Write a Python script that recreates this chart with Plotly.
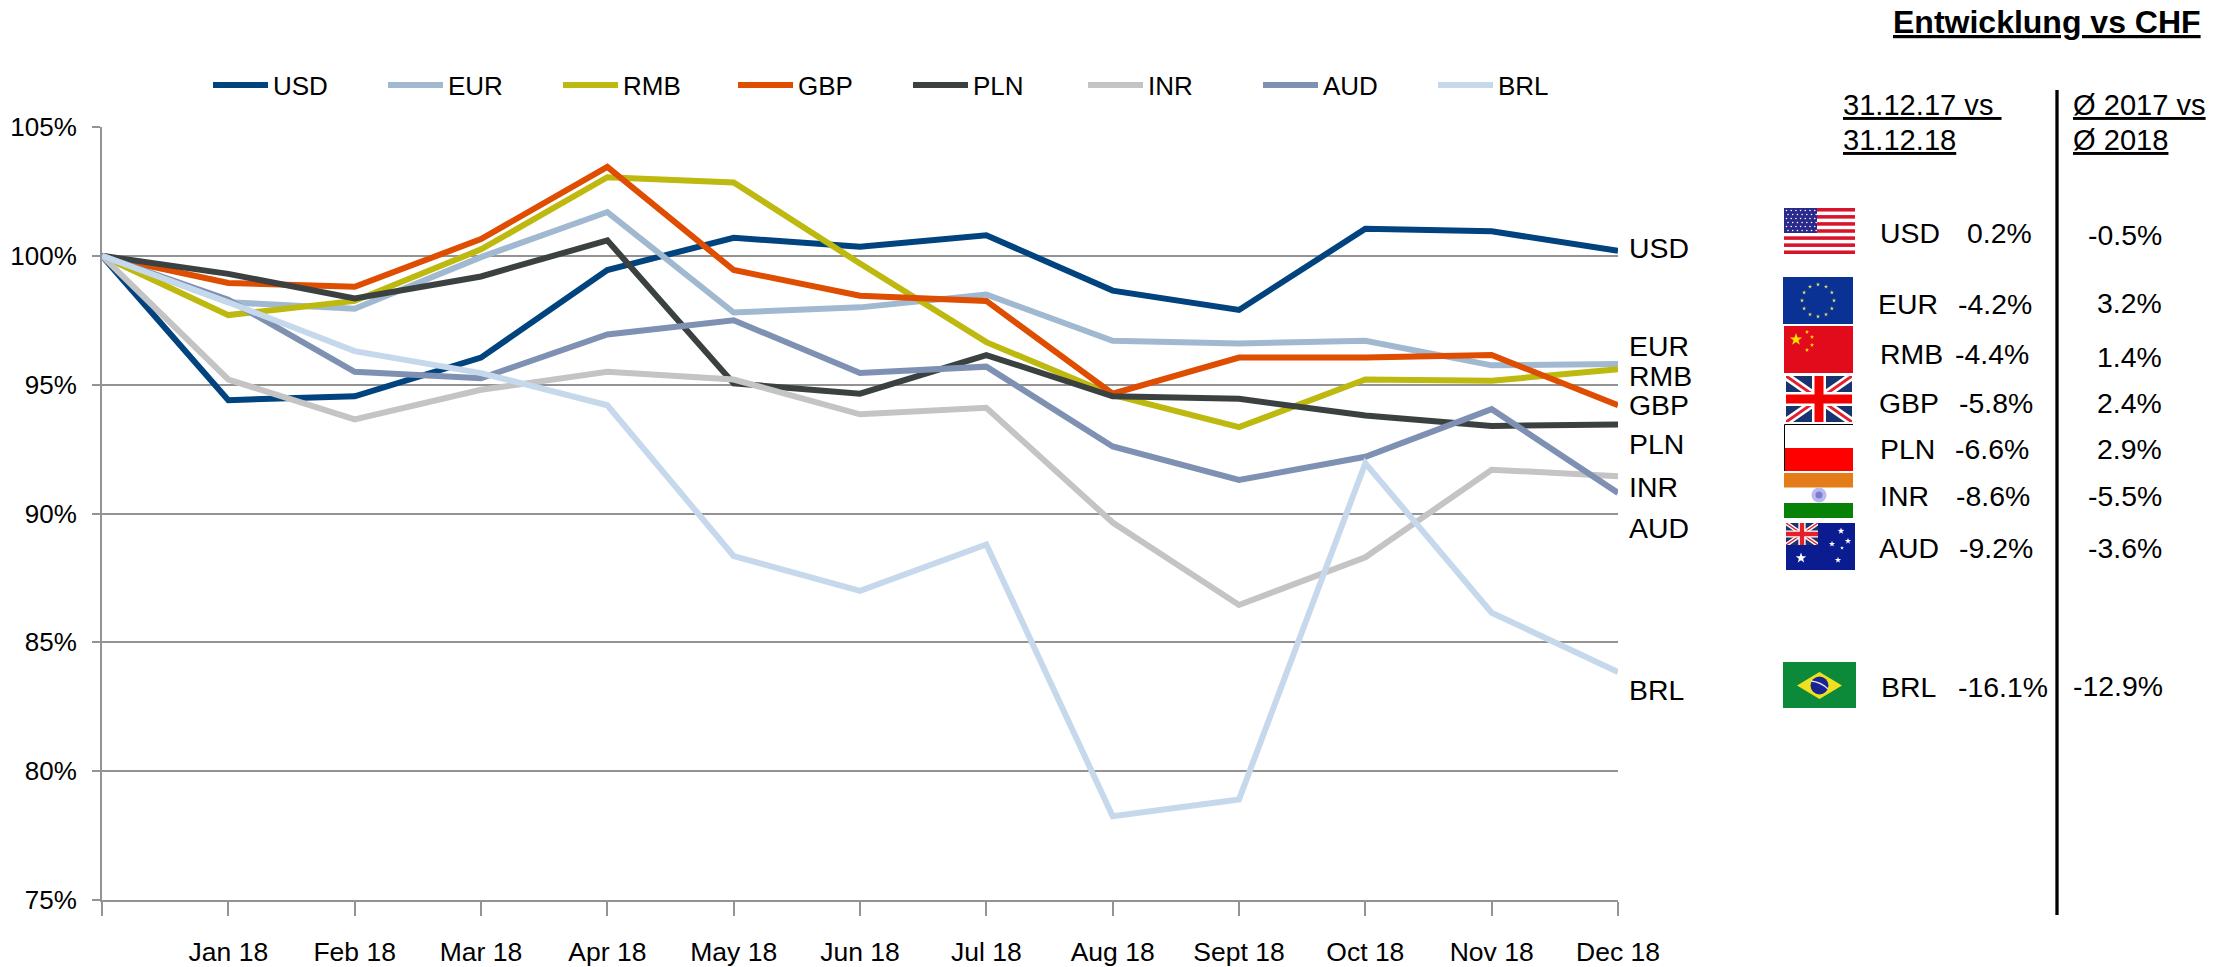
import math
import urllib.parse
import plotly.graph_objects as go

# ---------- data ----------
month_labels = ["", "Jan 18", "Feb 18", "Mar 18", "Apr 18", "May 18", "Jun 18", "Jul 18",
                "Aug 18", "Sept 18", "Oct 18", "Nov 18", "Dec 18"]
month_index = list(range(13))

usd = [100, 94.4, 94.55, 96.05, 99.45, 100.7, 100.35, 100.8, 98.65, 97.9, 101.05, 100.95, 100.2]
eur = [100, 98.2, 97.95, 99.95, 101.7, 97.8, 98.0, 98.5, 96.7, 96.6, 96.7, 95.75, 95.8]
rmb = [100, 97.7, 98.25, 100.25, 103.05, 102.85, 99.7, 96.65, 94.6, 93.35, 95.2, 95.15, 95.6]
gbp = [100, 98.95, 98.8, 100.65, 103.45, 99.45, 98.45, 98.25, 94.65, 96.05, 96.05, 96.15, 94.2]
pln = [100, 99.3, 98.35, 99.2, 100.6, 95.05, 94.65, 96.15, 94.55, 94.45, 93.8, 93.4, 93.45]
inr = [100, 95.2, 93.65, 94.8, 95.5, 95.2, 93.85, 94.1, 89.65, 86.45, 88.3, 91.7, 91.45]
aud = [100, 98.3, 95.5, 95.25, 96.95, 97.5, 95.45, 95.7, 92.6, 91.3, 92.2, 94.05, 90.8]
brl = [100, 98.2, 96.3, 95.45, 94.2, 88.35, 87.0, 88.8, 78.25, 78.9, 91.95, 86.15, 83.85]

currencies = ["USD", "EUR", "RMB", "GBP", "PLN", "INR", "AUD", "BRL"]
series = [usd, eur, rmb, gbp, pln, inr, aud, brl]
change_year_end = ["0.2%", "-4.2%", "-4.4%", "-5.8%", "-6.6%", "-8.6%", "-9.2%", "-16.1%"]
change_average = ["-0.5%", "3.2%", "1.4%", "2.4%", "2.9%", "-5.5%", "-3.6%", "-12.9%"]

y_ticks = [75, 80, 85, 90, 95, 100, 105]
y_tick_labels = ["75%", "80%", "85%", "90%", "95%", "100%", "105%"]

# ---------- styles / layout ----------
colors = ["#00437F", "#A0B9D1", "#BDB90F", "#DE4D00", "#3B4141", "#C4C4C4", "#7F91B3", "#C6D9EC"]
FONT = "Liberation Sans, Arial, sans-serif"
L, R, T, B = 102, 1618, 127, 900
W, H = 2231, 967
AXIS = "#939393"


def px(x):
    return (x - L) / (R - L)


def py(y):
    return (B - y) / (B - T)


def star(cx, cy, r, fill):
    pts = []
    for i in range(10):
        a = -math.pi / 2 + i * math.pi / 5
        rr = r if i % 2 == 0 else r * 0.4
        pts.append(f"{cx + rr * math.cos(a):.2f},{cy + rr * math.sin(a):.2f}")
    return f'<polygon points="{" ".join(pts)}" fill="{fill}"/>'


def svg(w, h, body):
    s = (f'<svg xmlns="http://www.w3.org/2000/svg" width="{w * 4}" height="{h * 4}" '
         f'viewBox="0 0 {w} {h}" preserveAspectRatio="none">{body}</svg>')
    return "data:image/svg+xml," + urllib.parse.quote(s)


def flag_usa():
    b = '<rect width="71" height="46" fill="#fff"/>'
    for i in range(7):
        b += f'<rect y="{i * 46 / 6.5:.2f}" width="71" height="{46 / 13:.2f}" fill="#D8132C"/>'
    b += '<rect width="33" height="25" fill="#2A2A8C"/>'
    for r in range(6):
        for c in range(7):
            b += f'<circle cx="{2.5 + c * 4.7 + (r % 2) * 1.5:.1f}" cy="{2.5 + r * 4:.1f}" r="0.8" fill="#fff"/>'
    return svg(71, 46, b)


def flag_eu():
    b = '<rect width="70" height="47" fill="#0A3294"/>'
    for i in range(12):
        a = i * math.pi / 6
        b += star(35 + 16 * math.cos(a), 23.5 + 16 * math.sin(a), 2.2, "#D8D86A")
    return svg(70, 47, b)


def flag_china():
    b = '<rect width="69" height="47" fill="#E20B1B"/>'
    b += star(12, 13.5, 6.5, "#FFDE00")
    for cx, cy in [(23, 6), (28, 11), (28, 19), (23, 24)]:
        b += star(cx, cy, 2.2, "#FFDE00")
    return svg(69, 47, b)


def flag_uk():
    b = '<rect width="66" height="46" fill="#17346E"/>'
    b += '<path d="M0,0L66,46M66,0L0,46" stroke="#fff" stroke-width="8"/>'
    b += '<path d="M0,0L66,46M66,0L0,46" stroke="#E3202C" stroke-width="3"/>'
    b += '<path d="M33,0V46M0,23H66" stroke="#fff" stroke-width="14"/>'
    b += '<path d="M33,0V46M0,23H66" stroke="#F30000" stroke-width="9"/>'
    return svg(66, 46, b)


def flag_poland():
    b = '<rect width="69" height="47" fill="#fff"/>'
    b += '<rect y="24" width="69" height="23" fill="#FE0000"/>'
    b += '<path d="M0.5,47V0.5H69" fill="none" stroke="#000" stroke-width="1"/>'
    return svg(69, 47, b)


def flag_india():
    b = '<rect width="69" height="45" fill="#fff"/>'
    b += '<rect width="69" height="14.5" fill="#E57C1A"/>'
    b += '<rect y="30" width="69" height="15" fill="#078207"/>'
    b += '<circle cx="35" cy="22" r="7.5" fill="#B9B9EE"/><circle cx="35" cy="22" r="3.5" fill="#7C7CD0"/>'
    return svg(69, 45, b)


def flag_australia():
    b = '<rect width="69" height="47" fill="#0B1C90"/>'
    b += '<svg x="0" y="0" width="32" height="22" viewBox="0 0 66 46" preserveAspectRatio="none">'
    b += '<rect width="66" height="46" fill="#17346E"/>'
    b += '<path d="M0,0L66,46M66,0L0,46" stroke="#fff" stroke-width="9"/>'
    b += '<path d="M0,0L66,46M66,0L0,46" stroke="#E3202C" stroke-width="3"/>'
    b += '<path d="M33,0V46M0,23H66" stroke="#fff" stroke-width="15"/>'
    b += '<path d="M33,0V46M0,23H66" stroke="#E3202C" stroke-width="9"/></svg>'
    b += star(15, 35, 5.5, "#fff")
    for cx, cy, r in [(55, 8, 3.5), (46, 21, 3.2), (62, 18, 3.3), (56, 25, 2), (52, 37, 3.3)]:
        b += star(cx, cy, r, "#fff")
    return svg(69, 47, b)


def flag_brazil():
    b = '<rect width="73" height="46" fill="#0C8A3A"/>'
    b += '<polygon points="36.5,10 59,23.5 36.5,37 14,23.5" fill="#EFE020"/>'
    b += '<circle cx="36.5" cy="23.5" r="9" fill="#1A2490"/>'
    b += '<path d="M28,19 Q38,20 45,27" fill="none" stroke="#DDE" stroke-width="1.4"/>'
    return svg(73, 46, b)


flags = [flag_usa(), flag_eu(), flag_china(), flag_uk(), flag_poland(), flag_india(), flag_australia(), flag_brazil()]
flag_boxes = [(1784, 208, 1855, 254), (1783, 277, 1853, 324), (1784, 326, 1853, 373), (1786, 376, 1852, 422),
              (1784, 424, 1853, 471), (1784, 473, 1853, 518), (1786, 523, 1855, 570), (1783, 662, 1856, 708)]

end_label_y = [248, 346, 376, 405, 444, 487, 528, 690]
code_x = [1880, 1878, 1880, 1879, 1880, 1880, 1879, 1881]
code_y = [233, 304, 354, 403, 449, 496, 548, 687]
val_right = [2032, 2032, 2029, 2033, 2029, 2030, 2033, 2048]
avg_y = [235, 303, 357, 403, 449, 496, 548, 686]
avg_right = [2162, 2162, 2162, 2162, 2162, 2162, 2162, 2163]

fig = go.Figure()
for name, vals, col in zip(currencies, series, colors):
    fig.add_trace(go.Scatter(x=month_index, y=vals, mode="lines", name=name,
                             line=dict(color=col, width=6), cliponaxis=False, hoverinfo="skip"))


def note(x, y, text, anchor="left", size=28.4):
    return dict(x=px(x), y=py(y), xref="paper", yref="paper", text=text, showarrow=False,
                xanchor=anchor, yanchor="middle", align="left", borderpad=0, borderwidth=0,
                font=dict(family=FONT, size=size, color="#000"))


annotations = []
for i, name in enumerate(currencies):
    annotations.append(note(1629, end_label_y[i], name))
    annotations.append(note(code_x[i], code_y[i], name))
    annotations.append(note(val_right[i], code_y[i], change_year_end[i], "right"))
    annotations.append(note(avg_right[i], avg_y[i], change_average[i], "right"))
annotations.append(note(1893, 22, "<b><u>Entwicklung vs CHF</u></b>", size=32))
annotations.append(note(1843, 105, "<u>31.12.17 vs </u>", size=29.1))
annotations.append(note(1843, 140, "<u>31.12.18</u>", size=29.1))
annotations.append(note(2073, 105, "<u>Ø 2017 vs</u>", size=29.1))
annotations.append(note(2073, 140, "<u>Ø 2018</u>", size=29.1))

images = [dict(source=src, xref="paper", yref="paper", x=px(b[0]), y=py(b[1]),
               sizex=(b[2] - b[0]) / (R - L), sizey=(b[3] - b[1]) / (B - T),
               xanchor="left", yanchor="top", sizing="stretch", layer="above")
          for src, b in zip(flags, flag_boxes)]

shapes = [dict(type="line", xref="paper", yref="paper", x0=px(2057), x1=px(2057), y0=py(90), y1=py(915),
               line=dict(color="#000", width=3.3))]

fig.update_layout(
    width=W, height=H, autosize=False,
    margin=dict(l=L, r=W - R, t=T, b=H - B, pad=0),
    paper_bgcolor="#fff", plot_bgcolor="#fff",
    font=dict(family=FONT, size=26, color="#000"),
    annotations=annotations, images=images, shapes=shapes,
    legend=dict(orientation="h", x=px(208), y=py(85), xanchor="left", yanchor="middle",
                itemwidth=55, entrywidth=105, entrywidthmode="pixels",
                font=dict(family=FONT, size=26, color="#000"), bgcolor="rgba(0,0,0,0)",
                traceorder="normal", itemclick=False, itemdoubleclick=False),
    xaxis=dict(range=[0, 12], tickmode="array", tickvals=month_index, ticktext=month_labels,
               automargin=False,
               showgrid=False, zeroline=False, showline=True, linecolor=AXIS, linewidth=2,
               ticks="outside", ticklen=14, tickwidth=2, tickcolor=AXIS, ticklabelstandoff=13,
               tickfont=dict(family=FONT, size=26.5, color="#000")),
    yaxis=dict(range=[75, 105], tickmode="array", tickvals=y_ticks, ticktext=y_tick_labels,
               automargin=False, ticklabelstandoff=10,
               showgrid=True, gridcolor=AXIS, gridwidth=2, zeroline=False, showline=True,
               linecolor=AXIS, linewidth=2, ticks="outside", ticklen=8, tickwidth=2, tickcolor=AXIS,
               tickfont=dict(family=FONT, size=26, color="#000")),
)

fig.write_html("out.html", config={"displayModeBar": False},
               post_script="document.body.style.margin='0';document.body.style.overflow='hidden';")
